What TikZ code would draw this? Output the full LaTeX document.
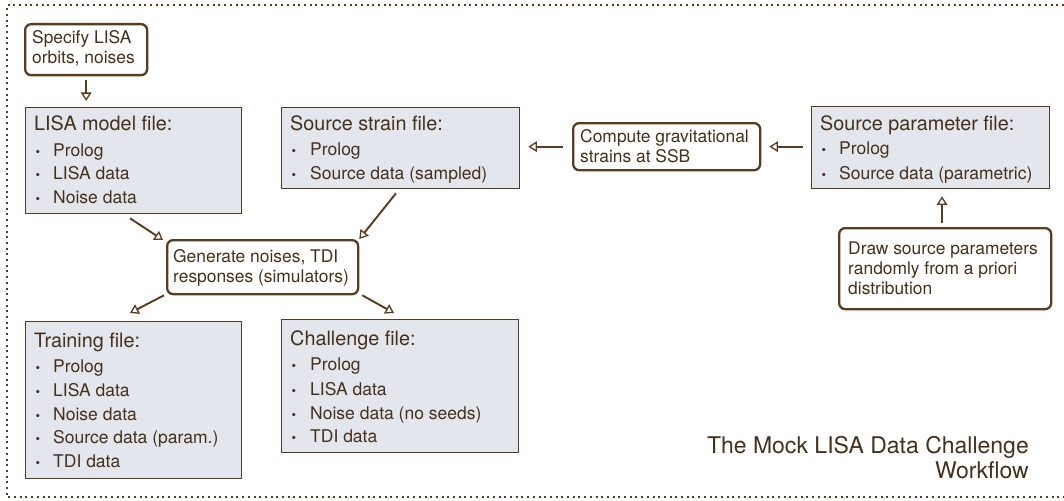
\documentclass[tikz,border=0pt]{standalone}
\usepackage{fontspec}
\setmainfont{TeX Gyre Heros}
\usetikzlibrary{arrows.meta,calc}
\definecolor{txtbrown}{HTML}{45301A}
\definecolor{linebrown}{HTML}{573C20}
\definecolor{boxfill}{HTML}{E3E6EC}
\tikzset{
  filebox/.style={draw=linebrown, line width=1.3pt, fill=boxfill, anchor=north west, inner sep=0pt},
  taskbox/.style={draw=linebrown, line width=2.3pt, fill=white, rounded corners=6pt, anchor=north west, inner sep=0pt},
  hdr/.style={anchor=base west, inner sep=0pt, text=txtbrown, font=\fontsize{19.8}{22}\selectfont},
  itm/.style={anchor=base west, inner sep=0pt, text=txtbrown, font=\fontsize{17.5}{20}\selectfont},
  bul/.style={anchor=base west, inner sep=0pt, text=txtbrown, font=\fontsize{13}{13}\selectfont},
  tsk/.style={anchor=base west, inner sep=0pt, text=txtbrown, font=\fontsize{17.4}{20}\selectfont},
  arr/.style={draw=linebrown, line width=1.9pt, -{Triangle[open, length=8.5pt, width=10.5pt, line width=1.3pt]}},
  frame/.style={draw=linebrown, line width=2pt, dash pattern=on 2pt off 3.7pt}
}
\begin{document}
\begin{tikzpicture}[x=1pt,y=-1pt]
\useasboundingbox (0,0) rectangle (1064,500);
% frame
\draw[frame] (1064,5) -- (7,5) -- (7,497) -- (1064,497);

% task boxes
\node[taskbox, minimum width=122pt, minimum height=51pt] (spec) at (24,23) {};
\node[tsk] (spect1) at (32,44) {Specify LISA};
\node[tsk] (spect2) at (32,64) {orbits, noises};

\node[taskbox, minimum width=187pt, minimum height=47pt] (comp) at (572,122) {};
\node[tsk] (compt1) at (580,142) {Compute gravitational};
\node[tsk] (compt2) at (580,162) {strains at SSB};

\node[taskbox, minimum width=212pt, minimum height=81pt] (drawp) at (838,227) {};
\node[tsk] (drawt1) at (848,254) {Draw source parameters};
\node[tsk] (drawt2) at (848,274) {randomly from a priori};
\node[tsk] (drawt3) at (848,294) {distribution};

\node[taskbox, minimum width=191pt, minimum height=54pt] (gen) at (166,239) {};
\node[tsk] (gent1) at (173,262) {Generate noises, TDI};
\node[tsk] (gent2) at (173,282) {responses (simulators)};

% file boxes
\node[filebox, minimum width=216pt, minimum height=106pt] (lisa) at (25,107) {};
\node[hdr] (lisah) at (34,130) {LISA model file:};
\foreach \t/\y [count=\i] in {Prolog/156, LISA data/179, Noise data/203}{
  \node[bul] (lisab\i) at (35.5,\y) {•};
  \node[itm] (lisai\i) at (53,\y) {\t};
}

\node[filebox, minimum width=238pt, minimum height=81pt] (ss) at (281,107) {};
\node[hdr] (ssh) at (290,130) {Source strain file:};
\foreach \t/\y [count=\i] in {Prolog/155, Source data (sampled)/179}{
  \node[bul] (ssb\i) at (291.5,\y) {•};
  \node[itm] (ssi\i) at (310,\y) {\t};
}

\node[filebox, minimum width=238pt, minimum height=82pt] (sp) at (811,106) {};
\node[hdr] (sph) at (820,130) {Source parameter file:};
\foreach \t/\y [count=\i] in {Prolog/154, Source data (parametric)/179}{
  \node[bul] (spb\i) at (821.5,\y) {•};
  \node[itm] (spi\i) at (839,\y) {\t};
}

\node[filebox, minimum width=216pt, minimum height=157pt] (tr) at (25,321) {};
\node[hdr] (trh) at (34,347) {Training file:};
\foreach \t/\y [count=\i] in {Prolog/372, LISA data/396, Noise data/420, Source data (param.)/443, TDI data/467}{
  \node[bul] (trb\i) at (35.5,\y) {•};
  \node[itm] (tri\i) at (53,\y) {\t};
}

\node[filebox, minimum width=237pt, minimum height=133pt] (ch) at (281,319) {};
\node[hdr] (chh) at (290,345) {Challenge file:};
\foreach \t/\y [count=\i] in {Prolog/370, LISA data/395, Noise data (no seeds)/419, TDI data/442}{
  \node[bul] (chb\i) at (291.5,\y) {•};
  \node[itm] (chi\i) at (310,\y) {\t};
}

% title
\node[anchor=base east, inner sep=0pt, text=txtbrown, font=\fontsize{23}{25}\selectfont] (title1) at (1029,453) {The Mock LISA Data Challenge};
\node[anchor=base east, inner sep=0pt, text=txtbrown, font=\fontsize{23}{25}\selectfont] (title2) at (1029,478) {Workflow};

% connectors
\draw[arr] ($(spec.south)+(0,4)$) -- ($(spec.south |- lisa.north)+(0,-6)$);
\draw[arr] ($(comp.west)+(-9,0)$) -- ($(ss.east |- comp.west)+(8,0)$);
\draw[arr] ($(sp.west |- comp.east)+(-8,0)$) -- ($(comp.east)+(8,0)$);
\draw[arr] ($(drawp.north west)+(104,-4)$) -- ($(sp.south west)+(131,7)$);
\draw[arr] ($(lisa.south west)+(105,4)$) -- ($(gen.north west)+(-3,1)$);
\draw[arr] ($(ss.south west)+(115,4)$) -- ($(gen.north east)+(0,0)$);
\draw[arr] ($(gen.south west)+(-2,0)$) -- ($(tr.north west)+(105,-8)$);
\draw[arr] ($(gen.south east)+(3,0)$) -- ($(ch.north west)+(113,-6)$);
\end{tikzpicture}
\end{document}
